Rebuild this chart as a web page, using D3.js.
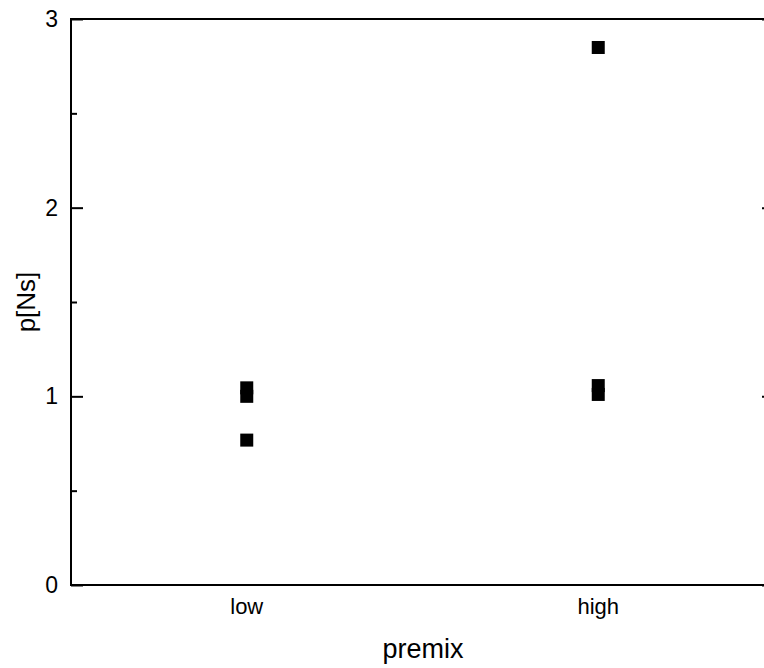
<!DOCTYPE html>
<html>
<head>
<meta charset="utf-8">
<script src="https://cdn.jsdelivr.net/npm/d3@7"></script>
<style>
  body { margin: 0; background: #fff; }
  text { font-family: "Liberation Sans", Arial, sans-serif; fill: #000; }
</style>
</head>
<body>
<div id="chart"></div>
<script>
// categories and measured values
var categories = ["low", "high"];
var lowValues = [1.045, 1.0, 0.768];
var highValues = [2.849, 1.057, 1.01];
var yTicks = [0, 1, 2, 3];
var yMinorTicks = [0.5, 1.5, 2.5];

var svgWidth = 764;
var svgHeight = 668;
var margin = { top: 19, right: -10, bottom: 83, left: 71 };
var width = svgWidth - margin.left - margin.right;
var height = svgHeight - margin.top - margin.bottom;

var svg = d3.select("#chart")
  .append("svg")
  .attr("width", svgWidth)
  .attr("height", svgHeight);

var chartGroup = svg.append("g")
  .attr("transform", `translate(${margin.left}, ${margin.top})`);

var points = [];
lowValues.forEach(function(v) { points.push({ cat: "low", value: v }); });
highValues.forEach(function(v) { points.push({ cat: "high", value: v }); });

var xScale = d3.scaleBand()
  .domain(categories)
  .range([0, width]);

var yScale = d3.scaleLinear()
  .domain([0, 3])
  .range([height, 0]);

// frame
chartGroup.append("rect")
  .attr("x", 0)
  .attr("y", 0)
  .attr("width", width)
  .attr("height", height)
  .attr("fill", "none")
  .attr("stroke", "#000")
  .attr("stroke-width", 2);

// left axis, inward ticks
var leftAxis = d3.axisLeft(yScale).tickValues(yTicks).tickSize(-12).tickPadding(13)
  .tickFormat(d3.format("d"));
var leftG = chartGroup.append("g").call(leftAxis);
leftG.attr("font-size", null).attr("font-family", null);
leftG.select(".domain").remove();
leftG.selectAll("line").attr("stroke-width", 2);
leftG.selectAll("text").style("font-size", "23px");

var leftMinor = d3.axisLeft(yScale).tickValues(yMinorTicks).tickSize(-6).tickFormat("");
var leftMinorG = chartGroup.append("g").call(leftMinor);
leftMinorG.select(".domain").remove();
leftMinorG.selectAll("line").attr("stroke-width", 2);

// right axis, inward ticks
var rightAxis = d3.axisRight(yScale).tickValues(yTicks).tickSize(-12).tickFormat("");
var rightG = chartGroup.append("g").attr("transform", `translate(${width}, 0)`).call(rightAxis);
rightG.select(".domain").remove();
rightG.selectAll("line").attr("stroke-width", 2);

var rightMinor = d3.axisRight(yScale).tickValues(yMinorTicks).tickSize(-6).tickFormat("");
var rightMinorG = chartGroup.append("g").attr("transform", `translate(${width}, 0)`).call(rightMinor);
rightMinorG.select(".domain").remove();
rightMinorG.selectAll("line").attr("stroke-width", 2);

// bottom axis labels only
var bottomAxis = d3.axisBottom(xScale).tickSize(0).tickPadding(13);
var bottomG = chartGroup.append("g").attr("transform", `translate(0, ${height})`).call(bottomAxis);
bottomG.attr("font-size", null).attr("font-family", null);
bottomG.select(".domain").remove();
bottomG.selectAll("text").style("font-size", "22px");

// points
var size = 13;
chartGroup.selectAll("rect.pt")
  .data(points)
  .enter()
  .append("rect")
  .attr("class", "pt")
  .attr("x", d => xScale(d.cat) + xScale.bandwidth() / 2 - size / 2)
  .attr("y", d => yScale(d.value) - size / 2)
  .attr("width", size)
  .attr("height", size)
  .attr("fill", "#000");

// axis titles
chartGroup.append("text")
  .attr("transform", "rotate(-90)")
  .attr("x", -height / 2)
  .attr("y", -36)
  .attr("text-anchor", "middle")
  .style("font-size", "26px")
  .text("p[Ns]");

chartGroup.append("text")
  .attr("x", 352)
  .attr("y", height + 73)
  .attr("text-anchor", "middle")
  .style("font-size", "27px")
  .text("premix");
</script>
</body>
</html>
